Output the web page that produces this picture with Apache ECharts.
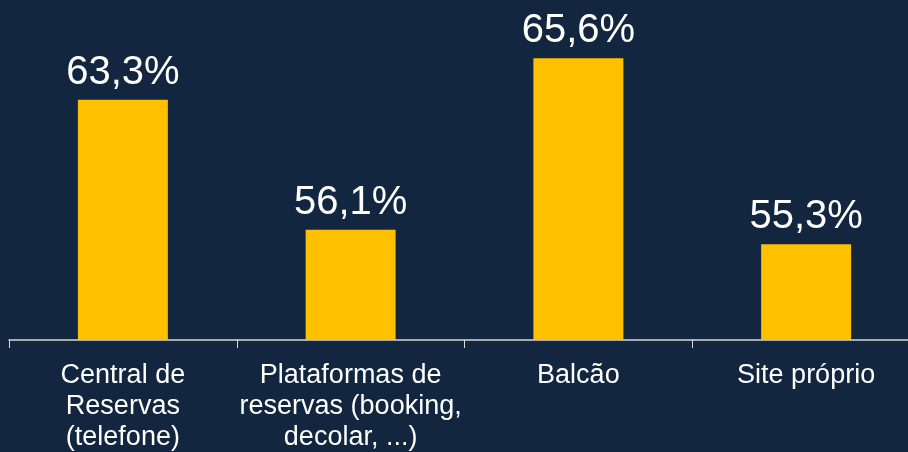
<!DOCTYPE html>
<html>
<head>
<meta charset="utf-8">
<script src="https://cdn.jsdelivr.net/npm/echarts@6/dist/echarts.min.js"></script>
<style>
  html, body { margin: 0; padding: 0; background: #12263F; }
  #chart { width: 908px; height: 452px; }
</style>
</head>
<body>
<div id="chart"></div>
<script>
// categorias e valores
const categories = [
  'Central de\nReservas\n(telefone)',
  'Plataformas de\nreservas (booking,\ndecolar, ...)',
  'Balcão',
  'Site próprio'
];
const values = [63.3, 56.1, 65.6, 55.3];

const chart = echarts.init(document.getElementById('chart'));

const option = {
  backgroundColor: '#12263F',
  animation: false,
  grid: { left: 9, top: 0, width: 911, height: 340, outerBoundsMode: 'none', containLabel: false },
  xAxis: {
    type: 'category',
    data: categories,
    axisLine: { lineStyle: { color: '#D9D9D9', width: 1.5 } },
    axisTick: { show: true, length: 8, lineStyle: { color: '#D9D9D9' } },
    axisLabel: {
      color: '#FFFFFF',
      fontFamily: 'Liberation Sans, Arial, sans-serif',
      fontSize: 27,
      lineHeight: 31,
      margin: 20,
      interval: 0
    }
  },
  yAxis: {
    type: 'value',
    min: 50,
    max: 68.83,
    show: false,
    splitLine: { show: false }
  },
  series: [{
    type: 'bar',
    data: values,
    barWidth: '39.5%',
    itemStyle: { color: '#FFC000' },
    label: {
      show: true,
      position: 'top',
      distance: 7,
      color: '#FFFFFF',
      fontFamily: 'Liberation Sans, Arial, sans-serif',
      fontSize: 40,
      formatter: p => p.value.toFixed(1).replace('.', ',') + '%'
    }
  }]
};

chart.setOption(option);
</script>
</body>
</html>
